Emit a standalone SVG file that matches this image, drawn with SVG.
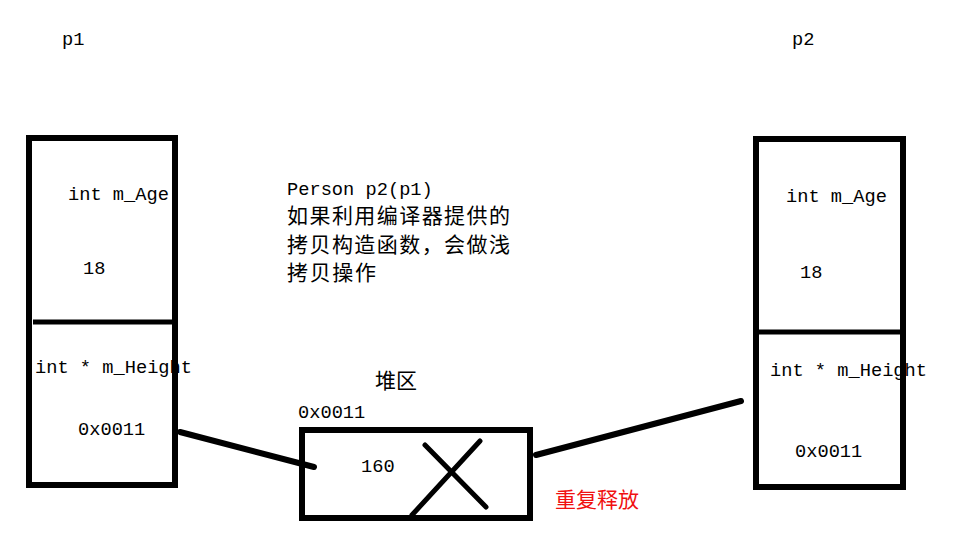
<svg xmlns="http://www.w3.org/2000/svg" width="966" height="553" viewBox="0 0 966 553">
<style>
.box{fill:none;stroke:#000;stroke-width:6}
.div{stroke:#000;stroke-width:5}
.con{stroke:#000;stroke-width:6;stroke-linecap:round;fill:none}
.t{font-family:"Liberation Mono","Noto Sans CJK SC",monospace;font-size:18.7px;fill:#000}
.cn{font-family:"Noto Sans CJK SC",sans-serif;font-size:21px;fill:#000}
.red{font-family:"Noto Sans CJK SC",sans-serif;font-size:21px;fill:#f01010}
</style>
<rect width="966" height="553" fill="#fff"/>
<g id="connectors">
<line class="con" x1="180" y1="432" x2="314" y2="467"/>
<line class="con" x1="536" y1="455" x2="741" y2="401"/>
</g>
<g id="p1">
<text class="t" x="62" y="45">p1</text>
<rect class="box" x="29" y="138" width="146" height="347"/>
<line class="div" x1="33" y1="322" x2="175" y2="322"/>
<text class="t" x="68" y="200">int m_Age</text>
<text class="t" x="83" y="274">18</text>
<text class="t" x="35" y="373">int * m_Height</text>
<text class="t" x="78" y="435">0x0011</text>
</g>
<g id="p2">
<text class="t" x="792" y="45">p2</text>
<rect class="box" x="756" y="139" width="147" height="348"/>
<line class="div" x1="756" y1="332" x2="903" y2="332"/>
<text class="t" x="786" y="202">int  m_Age</text>
<text class="t" x="800" y="278">18</text>
<text class="t" x="770" y="376">int * m_Height</text>
<text class="t" x="795" y="457">0x0011</text>
</g>
<g id="note">
<text class="t" x="287" y="195">Person p2(p1)</text>
<text class="cn" x="287" y="223" textLength="223">如果利用编译器提供的</text>
<text class="cn" x="287" y="252" textLength="223">拷贝构造函数，会做浅</text>
<text class="cn" x="287" y="280" textLength="89">拷贝操作</text>
</g>
<g id="heap">
<text class="cn" x="375" y="388">堆区</text>
<text class="t" x="298" y="418">0x0011</text>
<rect class="box" x="302" y="430" width="228" height="88"/>
<text class="t" x="361" y="472">160</text>
<line class="con" x1="425" y1="445" x2="486" y2="507" style="stroke-width:5"/>
<line class="con" x1="480" y1="441" x2="412" y2="515" style="stroke-width:5"/>
</g>
<g id="label">
<text class="red" x="555" y="507">重复释放</text>
</g>
</svg>
